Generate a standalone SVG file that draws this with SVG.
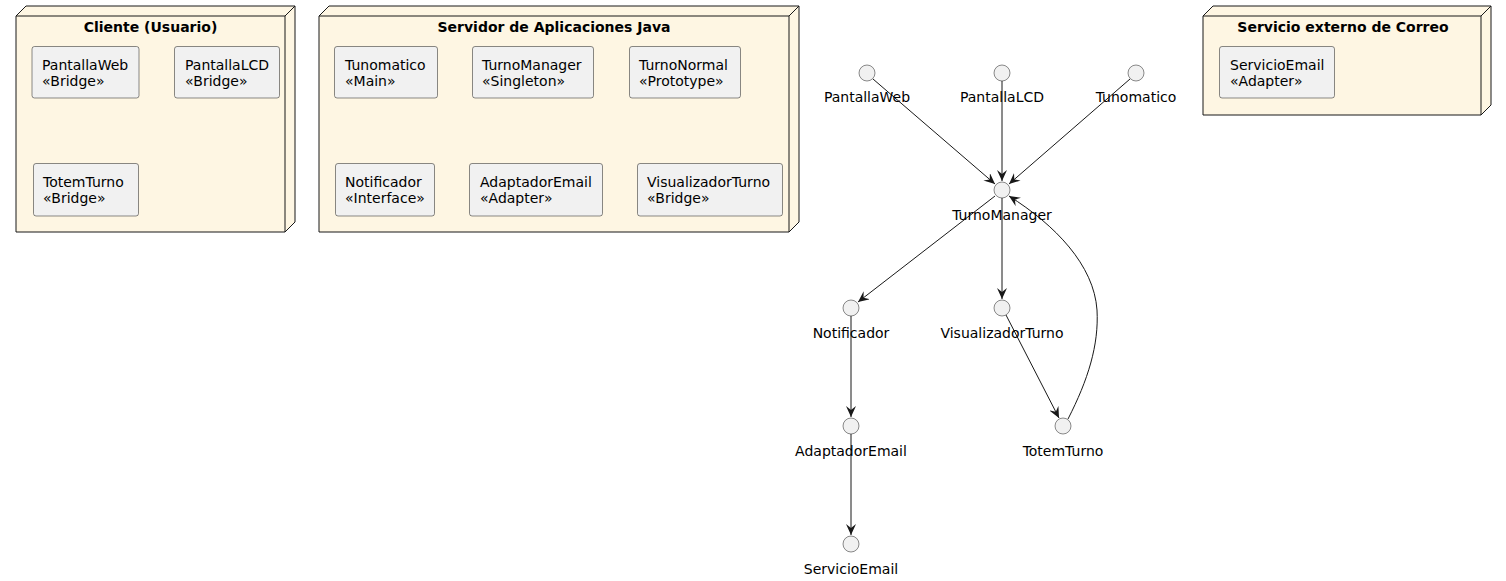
<svg xmlns="http://www.w3.org/2000/svg" width="1506" height="581" viewBox="0 0 1506 581">
<style>
.node{fill:#FEF6E3;stroke:#181818;stroke-width:1}
.nl{fill:none;stroke:#181818;stroke-width:1}
.box{fill:#F1F1F1;stroke:#181818;stroke-width:0.5}
.ttl{font-family:"DejaVu Sans",sans-serif;font-size:14px;font-weight:bold;fill:#000;text-anchor:middle}
.t{font-family:"DejaVu Sans",sans-serif;font-size:14px;fill:#000}
.lbl{font-family:"DejaVu Sans",sans-serif;font-size:14px;fill:#000;text-anchor:middle}
.ic{fill:#F1F1F1;stroke:#181818;stroke-width:0.5}
.e{fill:none;stroke:#181818;stroke-width:1;marker-end:url(#arr)}
</style>
<defs>
<marker id="arr" viewBox="0 0 12 10" refX="11" refY="5" markerWidth="12" markerHeight="10" markerUnits="userSpaceOnUse" orient="auto">
<path d="M0,0 L11,5 L0,10 L4,5 Z" fill="#181818"/>
</marker>
</defs>
<rect width="1506" height="581" fill="#FFFFFF"/>

<g id="cliente">
<path class="node" d="M16,16 L26,6 L295,6 L295,222 L285,232 L16,232 Z"/>
<path class="nl" d="M16,16 L285,16 L295,6 M285,16 L285,232"/>
<text class="ttl" x="150.5" y="32">Cliente (Usuario)</text>
</g>
<g id="c_pantallaweb">
<rect class="box" x="32" y="46.5" width="107" height="51.5" rx="2.5"/>
<text class="t" x="42" y="70">PantallaWeb</text>
<text class="t" x="42" y="86">«Bridge»</text>
</g>
<g id="c_pantallalcd">
<rect class="box" x="174.5" y="46.5" width="105" height="51.5" rx="2.5"/>
<text class="t" x="185" y="70">PantallaLCD</text>
<text class="t" x="185" y="86">«Bridge»</text>
</g>
<g id="c_totemturno">
<rect class="box" x="33.5" y="163.5" width="105" height="52.5" rx="2.5"/>
<text class="t" x="43" y="187">TotemTurno</text>
<text class="t" x="43" y="203">«Bridge»</text>
</g>

<g id="servidor">
<path class="node" d="M319,16 L329,6 L799,6 L799,222 L789,232 L319,232 Z"/>
<path class="nl" d="M319,16 L789,16 L799,6 M789,16 L789,232"/>
<text class="ttl" x="554" y="32">Servidor de Aplicaciones Java</text>
</g>
<g id="s_tunomatico">
<rect class="box" x="334.5" y="46.5" width="103" height="51.5" rx="2.5"/>
<text class="t" x="345" y="70">Tunomatico</text>
<text class="t" x="345" y="86">«Main»</text>
</g>
<g id="s_turnomanager">
<rect class="box" x="472.5" y="46.5" width="121" height="51.5" rx="2.5"/>
<text class="t" x="482" y="70">TurnoManager</text>
<text class="t" x="482" y="86">«Singleton»</text>
</g>
<g id="s_turnonormal">
<rect class="box" x="629.5" y="46.5" width="111" height="51.5" rx="2.5"/>
<text class="t" x="639" y="70">TurnoNormal</text>
<text class="t" x="639" y="86">«Prototype»</text>
</g>
<g id="s_notificador">
<rect class="box" x="335.5" y="163.5" width="99" height="52.5" rx="2.5"/>
<text class="t" x="345" y="187">Notificador</text>
<text class="t" x="345" y="203">«Interface»</text>
</g>
<g id="s_adaptadoremail">
<rect class="box" x="469.5" y="163.5" width="133" height="52.5" rx="2.5"/>
<text class="t" x="480" y="187">AdaptadorEmail</text>
<text class="t" x="480" y="203">«Adapter»</text>
</g>
<g id="s_visualizadorturno">
<rect class="box" x="637.5" y="163.5" width="145" height="52.5" rx="2.5"/>
<text class="t" x="647" y="187">VisualizadorTurno</text>
<text class="t" x="647" y="203">«Bridge»</text>
</g>

<g id="externo">
<path class="node" d="M1203,16 L1213,6 L1491,6 L1491,105 L1481,115 L1203,115 Z"/>
<path class="nl" d="M1203,16 L1481,16 L1491,6 M1481,16 L1481,115"/>
<text class="ttl" x="1343" y="32">Servicio externo de Correo</text>
</g>
<g id="e_servicioemail">
<rect class="box" x="1219.5" y="46.5" width="115" height="51.5" rx="2.5"/>
<text class="t" x="1230" y="70">ServicioEmail</text>
<text class="t" x="1230" y="86">«Adapter»</text>
</g>

<g id="connectors">
<line class="e" x1="873" y1="79" x2="995" y2="184"/>
<line class="e" x1="1002" y1="81" x2="1002" y2="181"/>
<line class="e" x1="1130" y1="79" x2="1009" y2="184"/>
<line class="e" x1="995" y1="196" x2="858" y2="302"/>
<line class="e" x1="1002" y1="198" x2="1002" y2="299"/>
<line class="e" x1="851" y1="316" x2="851" y2="417"/>
<line class="e" x1="851" y1="434" x2="851" y2="535"/>
<line class="e" x1="1006" y1="315" x2="1059" y2="418"/>
<path class="e" d="M1068,419 C1088,380 1099,345 1097,310 C1094,265 1055,225 1009,196"/>
</g>

<g id="i_pantallaweb"><circle class="ic" cx="867" cy="73" r="8"/><text class="lbl" x="867" y="102">PantallaWeb</text></g>
<g id="i_pantallalcd"><circle class="ic" cx="1002" cy="73" r="8"/><text class="lbl" x="1002" y="102">PantallaLCD</text></g>
<g id="i_tunomatico"><circle class="ic" cx="1136" cy="73" r="8"/><text class="lbl" x="1136" y="102">Tunomatico</text></g>
<g id="i_turnomanager"><circle class="ic" cx="1002" cy="190" r="8"/><text class="lbl" x="1002" y="220">TurnoManager</text></g>
<g id="i_notificador"><circle class="ic" cx="851" cy="308" r="8"/><text class="lbl" x="851" y="338">Notificador</text></g>
<g id="i_visualizadorturno"><circle class="ic" cx="1002" cy="308" r="8"/><text class="lbl" x="1002" y="338">VisualizadorTurno</text></g>
<g id="i_adaptadoremail"><circle class="ic" cx="851" cy="426" r="8"/><text class="lbl" x="851" y="456">AdaptadorEmail</text></g>
<g id="i_totemturno"><circle class="ic" cx="1063" cy="426" r="8"/><text class="lbl" x="1063" y="456">TotemTurno</text></g>
<g id="i_servicioemail"><circle class="ic" cx="851" cy="544" r="8"/><text class="lbl" x="851" y="574">ServicioEmail</text></g>
</svg>
